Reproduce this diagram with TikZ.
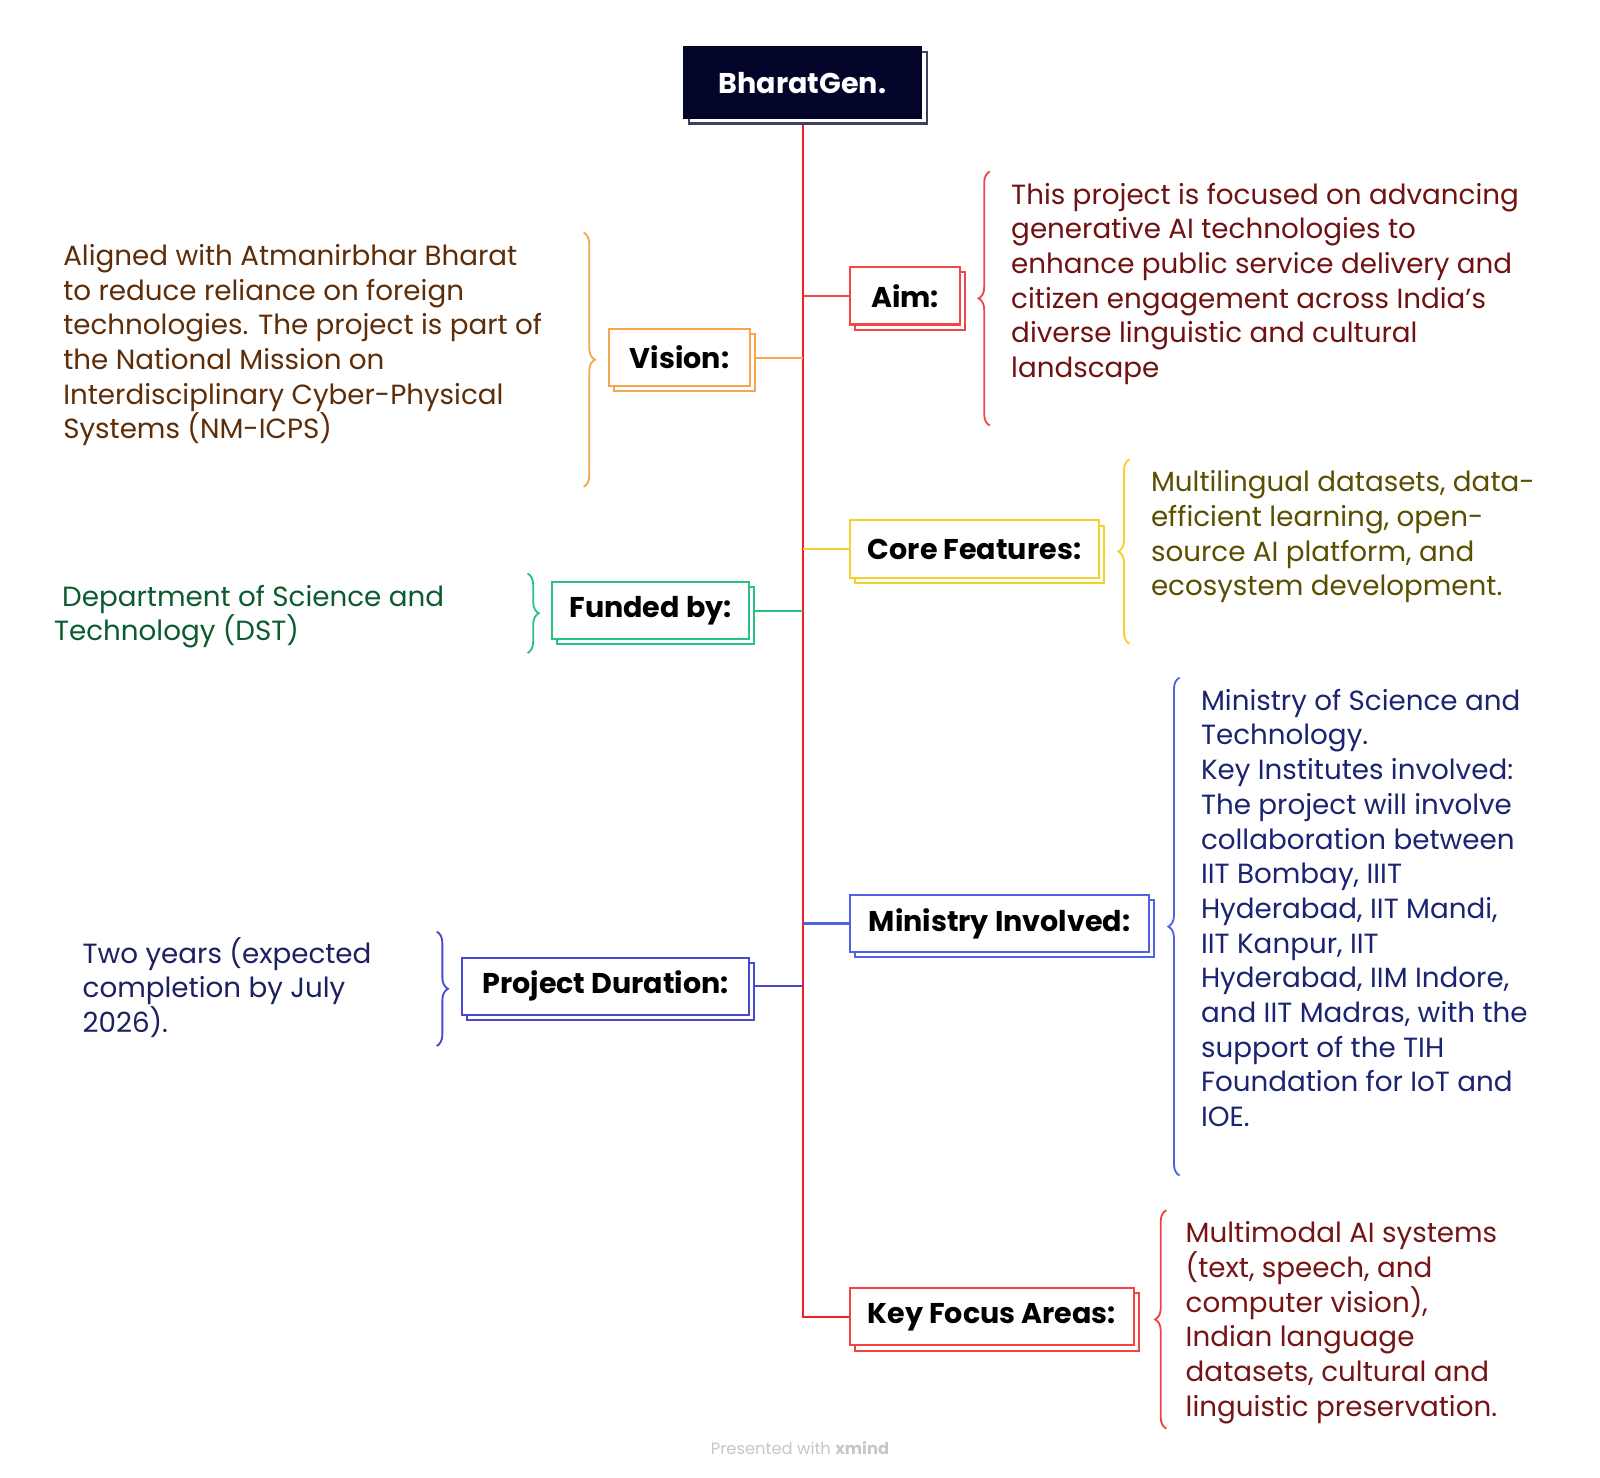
\documentclass[tikz,border=0pt]{standalone}
\usepackage{fontspec}
\setmainfont{Poppins}
\usetikzlibrary{shadows,backgrounds,decorations.pathreplacing}
\definecolor{rootnavy}{HTML}{03042A}
\definecolor{rootgray}{HTML}{3E4160}
\definecolor{trunkred}{HTML}{F01E1E}
\definecolor{aimred}{HTML}{F04848}
\definecolor{aimtext}{HTML}{6E1212}
\definecolor{visionorange}{HTML}{F7A650}
\definecolor{visiontext}{HTML}{5E2D08}
\definecolor{coreyellow}{HTML}{F4D22A}
\definecolor{coretext}{HTML}{5A4E00}
\definecolor{fundgreen}{HTML}{2BC281}
\definecolor{fundtext}{HTML}{0C5B2E}
\definecolor{ministryblue}{HTML}{4F62E6}
\definecolor{ministrytext}{HTML}{1A2470}
\definecolor{durationblue}{HTML}{4B48D0}
\definecolor{durationtext}{HTML}{1B2160}
\definecolor{focusred}{HTML}{F04444}
\definecolor{focustext}{HTML}{741414}

\begin{document}
\begin{tikzpicture}
[x=0.5pt,y=-0.5pt,%
  every node/.style={inner sep=0pt,outer sep=0pt},%
  topic/.style={draw=#1,line width=1pt,fill=white,minimum height=28pt,%
    font=\fontsize{14}{17}\selectfont\bfseries,%
    copy shadow={shadow xshift=2.5pt,shadow yshift=-2.5pt,draw=#1,fill=white}},%
  note/.style={text=#1,align=left,anchor=base west,font=\fontsize{13.6}{17}\selectfont},%
  link/.style={draw=#1,line width=1pt},%
  curly/.style={draw=#1,line width=0.9pt,decorate,decoration={brace,amplitude=5.5pt}}]
\useasboundingbox (0,0) rectangle (1568,1448);

\node[draw=rootnavy,fill=rootnavy,text=white,line width=1pt,%
  minimum width=116.5pt,minimum height=35pt,font=\fontsize{14}{17}\selectfont\bfseries,%
  copy shadow={shadow xshift=2.5pt,shadow yshift=-2.5pt,draw=rootgray,fill=white}]
  (root) at (786.5,81) {BharatGen.};

\node[topic=aimred,minimum width=54pt,anchor=west] (aim) at (833,290) {Aim:};
\node[topic=visionorange,minimum width=69pt,anchor=east] (vision) at (735,350.5) {Vision:};
\node[topic=coreyellow,minimum width=122pt,anchor=west] (core) at (833,538) {Core Features:};
\node[topic=fundgreen,minimum width=96.5pt,anchor=east] (funded) at (734,598.5) {Funded by:};
\node[topic=ministryblue,minimum width=146.5pt,anchor=west] (ministry) at (833,905) {Ministry Involved:};
\node[topic=durationblue,minimum width=140.5pt,anchor=east] (duration) at (734,966.5) {Project Duration:};
\node[topic=focusred,minimum width=139pt,anchor=west] (focus) at (833,1290.5) {Key Focus Areas:};

\begin{scope}[on background layer]
\draw[link=trunkred] (root.south) |- (focus.west);
\draw[link=aimred] (aim.west) -- (aim.west -| root.south);
\draw[link=visionorange] (vision.east) -- (vision.east -| root.south);
\draw[link=coreyellow] (core.west) -- (core.west -| root.south);
\draw[link=fundgreen] (funded.east) -- (funded.east -| root.south);
\draw[link=ministryblue] (ministry.west) -- (ministry.west -| root.south);
\draw[link=durationblue] (duration.east) -- (duration.east -| root.south);
\end{scope}

\node[note=aimtext] (aimtxt) at (991,370)
  {This project is focused on advancing\\generative AI technologies to\\enhance public service delivery and\\citizen engagement across India’s\\diverse linguistic and cultural\\landscape};
\node[note=visiontext] (visiontxt) at (62,430)
  {Aligned with Atmanirbhar Bharat\\to reduce reliance on foreign\\technologies. The project is part of\\the National Mission on\\Interdisciplinary Cyber-Physical\\Systems (NM-ICPS)};
\node[note=coretext] (coretxt) at (1128,584)
  {Multilingual datasets, data-\\efficient learning, open-\\source AI platform, and\\ecosystem development.};
\node[note=fundtext] (fundtxt) at (53,628)
  {\hspace*{4pt}Department of Science and\\Technology (DST)};
\node[note=ministrytext] (ministrytxt) at (1177,1104)
  {Ministry of Science and\\Technology.\\Key Institutes involved:\\The project will involve\\collaboration between\\IIT Bombay, IIIT\\Hyderabad, IIT Mandi,\\IIT Kanpur, IIT\\Hyderabad, IIM Indore,\\and IIT Madras, with the\\support of the TIH\\Foundation for IoT and\\IOE.};
\node[note=durationtext] (durationtxt) at (81,1012)
  {Two years (expected\\completion by July\\2026).};
\node[note=focustext] (focustxt) at (1162,1388)
  {Multimodal AI systems\\(text, speech, and\\computer vision),\\Indian language\\datasets, cultural and\\linguistic preservation.};

\draw[curly=aimred] (970,417) -- (970,168);
\draw[curly=visionorange] (572,228) -- (572,477);
\draw[curly=coreyellow] (1107,631) -- (1107,450);
\draw[curly=fundgreen] (517,562) -- (517,640);
\draw[curly=ministryblue] (1156,1152) -- (1156,664);
\draw[curly=durationblue] (428,913) -- (428,1025);
\draw[curly=focusred] (1143,1400) -- (1143,1186);

\node[text=black!22,font=\fontsize{8}{10}\selectfont] (mark) at (784,1419) {Presented with \textbf{xmind}};
\end{tikzpicture}
\end{document}
